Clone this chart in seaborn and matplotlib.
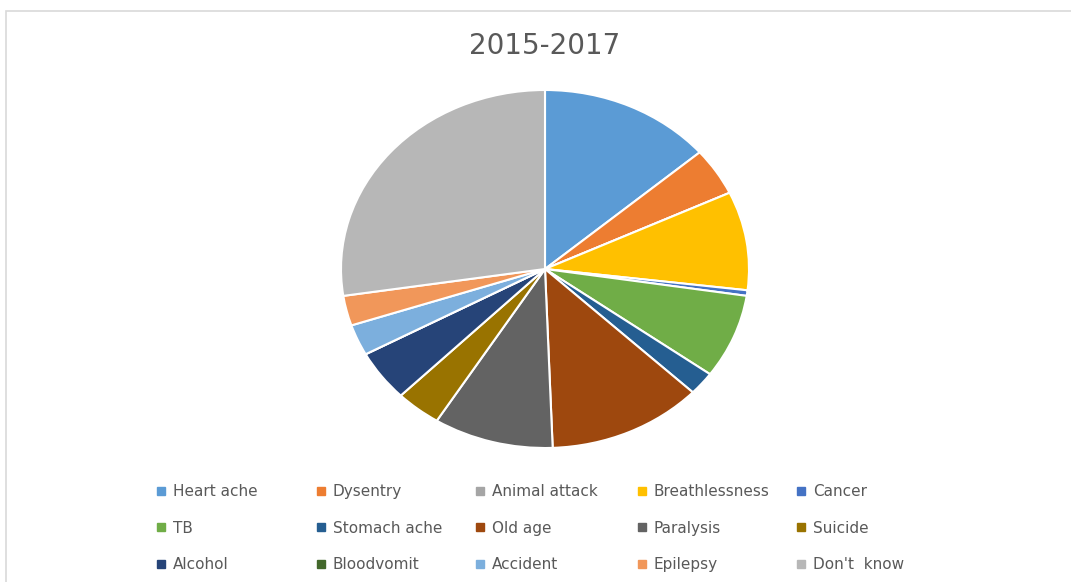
import matplotlib
matplotlib.use("Agg")
import matplotlib.pyplot as plt
import seaborn as sns
from matplotlib.patches import Rectangle
from matplotlib.lines import Line2D

categories = ["Heart ache", "Dysentry", "Animal attack", "Breathlessness", "Cancer",
              "TB", "Stomach ache", "Old age", "Paralysis", "Suicide",
              "Alcohol", "Bloodvomit", "Accident", "Epilepsy", "Don't  know"]
values = [13.7, 4.3, 0.0, 8.9, 0.5,
          7.6, 2.1, 12.3, 9.5, 3.6,
          4.6, 0.0, 2.8, 2.7, 27.4]
colors = ["#5B9BD5", "#ED7D31", "#A5A5A5", "#FFC000", "#4472C4",
          "#70AD47", "#255E91", "#9E480E", "#636363", "#997300",
          "#264478", "#43682B", "#7CAFDD", "#F1975A", "#B7B7B7"]
title = "2015-2017"

sns.set_theme(style="white")
plt.rcParams['font.family'] = ['DejaVu Sans']
palette = sns.color_palette(colors)

W, H = 1071, 582
fig = plt.figure(figsize=(W / 100, H / 100), dpi=100)

# chart border
fig.add_artist(Rectangle((6 / W, -0.05), 1.1, 1 - 11 / H + 0.05, transform=fig.transFigure,
                         fill=False, edgecolor="#D9D9D9", linewidth=1.2))

# pie axes: center (545, 269), rx 204, ry 179
cx, cy, rx, ry = 545, 269, 204, 179
ax = fig.add_axes([(cx - rx) / W, 1 - (cy + ry) / H, 2 * rx / W, 2 * ry / H])
ax.pie(values, colors=palette, startangle=90, counterclock=False, radius=1,
       wedgeprops=dict(edgecolor="white", linewidth=1.5))
ax.set_aspect("auto")
ax.set_xlim(-1, 1)
ax.set_ylim(-1, 1)
ax.axis("off")

fig.text(545 / W, 1 - 46 / H, title, ha="center", va="center", fontsize=20,
         color="#595959")

# legend: 5 equal-width columns, 3 rows, row-major order
handles = [Line2D([], [], marker="s", linestyle="none", markersize=6,
                  markerfacecolor=c, markeredgecolor=c) for c in palette]
col_x = [156, 316, 475, 637, 796]
for c, x in enumerate(col_x):
    idx = [r * 5 + c for r in range(3)]
    leg = fig.legend([handles[i] for i in idx], [categories[i] for i in idx],
                     loc="upper left", bbox_to_anchor=(x / W, 1 - 484 / H),
                     frameon=False, fontsize=11, handlelength=0.6, handletextpad=0.5,
                     labelspacing=1.42, borderpad=0, borderaxespad=0,
                     labelcolor="#595959")

fig.savefig("out.png", dpi=100, facecolor="white")
